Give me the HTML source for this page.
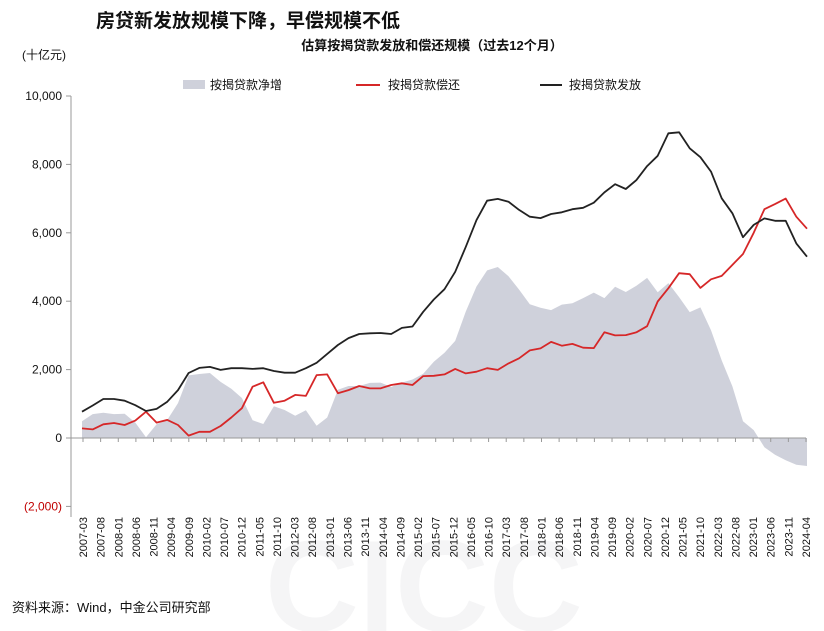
<!DOCTYPE html>
<html><head><meta charset="utf-8"><style>
html,body{margin:0;background:#fff;width:824px;height:631px;overflow:hidden;font-family:"Liberation Sans","Noto Sans CJK SC",sans-serif;}
svg{display:block;overflow:hidden}
</style></head><body>
<svg id="chart" width="824" height="631" xmlns="http://www.w3.org/2000/svg" style="font-family:'Liberation Sans','Noto Sans CJK SC',sans-serif">
<text x="265" y="631" font-size="130" font-weight="bold" fill="#f5f5f6">CICC</text>
<text x="96" y="27" font-size="19" font-weight="bold" fill="#111">房贷新发放规模下降，早偿规模不低</text>
<text x="432" y="50" font-size="13" font-weight="bold" text-anchor="middle" fill="#111">估算按揭贷款发放和偿还规模（过去12个月）</text>
<text x="22" y="59" font-size="12" fill="#111">(十亿元)</text>
<g font-size="12" fill="#111">
<rect x="183" y="80" width="22" height="9" fill="#cfd1db"/>
<text x="210" y="89">按揭贷款净增</text>
<line x1="356" y1="85" x2="380" y2="85" stroke="#d62728" stroke-width="2"/>
<text x="388" y="89">按揭贷款偿还</text>
<line x1="540" y1="85" x2="562" y2="85" stroke="#222" stroke-width="2"/>
<text x="569" y="89">按揭贷款发放</text>
</g>
<g id="plot"></g>
<text x="12" y="612" font-size="13" fill="#111">资料来源：Wind，中金公司研究部</text>
</svg>
<script>
const issuance=[770,950,1140,1140,1090,960,790,850,1060,1400,1900,2050,2080,1990,2040,2040,2020,2040,1960,1910,1910,2040,2200,2460,2720,2920,3040,3060,3070,3040,3220,3260,3690,4050,4350,4860,5590,6370,6940,6990,6910,6670,6470,6430,6550,6600,6690,6730,6880,7180,7420,7280,7540,7950,8250,8910,8940,8470,8210,7790,7010,6570,5870,6230,6420,6350,6350,5690,5300];
const repayment=[280,250,400,440,380,510,770,450,530,380,70,180,180,350,600,870,1500,1630,1030,1090,1260,1230,1840,1860,1310,1400,1520,1450,1450,1550,1600,1550,1810,1820,1860,2020,1890,1940,2040,1990,2180,2330,2560,2620,2810,2700,2750,2640,2630,3090,3000,3010,3090,3270,3990,4380,4820,4790,4390,4640,4740,5060,5380,6000,6690,6840,7000,6470,6120];
const yTicks=[10000,8000,6000,4000,2000,0,-2000];
const yTickLabels=["10,000","8,000","6,000","4,000","2,000","0","(2,000)"];
const xStartYear=2007, xStartMonth=3, xMonths=205, xStepMonths=5;

const NS="http://www.w3.org/2000/svg";
const plot=document.getElementById('plot');
const X0=82,X1=807,Y0=438,PX_PER=342/10000;
const y=v=>Y0-v*PX_PER;
const xi=i=>X0+i*(X1-X0)/(issuance.length-1);
const xm=m=>83+m*(806-83)/xMonths;
function mk(tag,attrs){const e=document.createElementNS(NS,tag);for(const k in attrs)e.setAttribute(k,attrs[k]);plot.appendChild(e);return e;}

const net=issuance.map((v,i)=>v-repayment[i]);
let d=`M${xi(0)},${y(0)}`;
net.forEach((v,i)=>{d+=` L${xi(i).toFixed(1)},${y(v).toFixed(1)}`;});
d+=` L${xi(net.length-1)},${y(0)} Z`;
const area=mk('path',{d:d,fill:'#cfd1db'});



const ya=mk('line',{x1:71,y1:96,x2:71,y2:517,stroke:'#999','stroke-width':1});


yTicks.forEach((t,i)=>{
  mk('line',{x1:66,y1:y(t),x2:71,y2:y(t),stroke:'#999'});
  const tx=mk('text',{x:62,y:y(t)+4,'font-size':12,'text-anchor':'end',fill:t<0?'#c00000':'#111'});
  tx.textContent=yTickLabels[i];
  
  
});
const xa=mk('line',{x1:71,y1:Y0,x2:806,y2:Y0,stroke:'#999','stroke-width':1});


for(let m=0;m<=xMonths;m+=xStepMonths){
  const px=xm(m);
  mk('line',{x1:px,y1:Y0,x2:px,y2:Y0+4,stroke:'#999'});
  let tot=xStartMonth-1+m;const yr=xStartYear+Math.floor(tot/12),mo=tot%12+1;
  const lab=yr+'-'+String(mo).padStart(2,'0');
  const tx=mk('text',{x:0,y:0,'font-size':11,'text-anchor':'end',fill:'#111',transform:`translate(${px+4},517) rotate(-90)`});
  tx.textContent=lab;
  
  
}

function line(arr,color,name){
  const pts=arr.map((v,i)=>xi(i).toFixed(1)+','+y(v).toFixed(1)).join(' ');
  const p=mk('polyline',{points:pts,fill:'none',stroke:color,'stroke-width':1.8,'stroke-linejoin':'round'});
  
  
}
line(repayment,'#d62728','repayment-line');
line(issuance,'#222','issuance-line');
</script>
</body></html>
